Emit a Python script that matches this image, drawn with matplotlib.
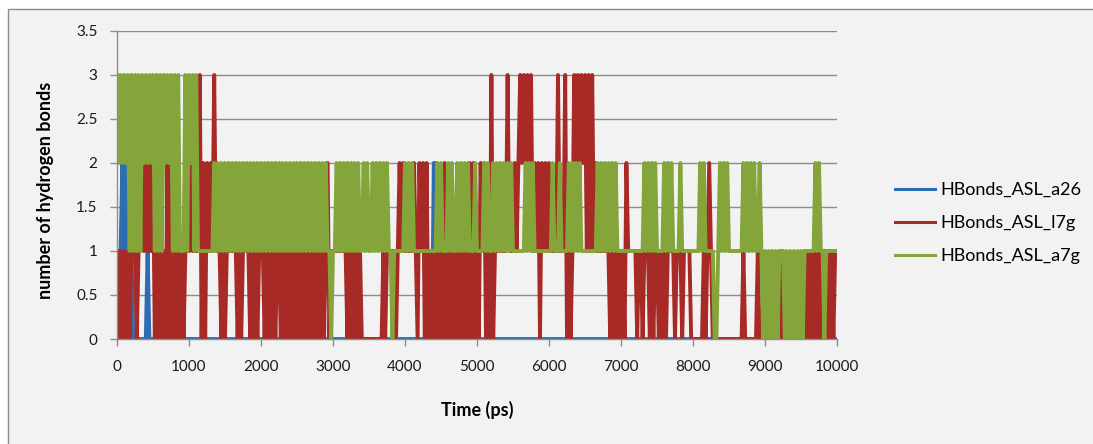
import numpy as np
import matplotlib
matplotlib.use("Agg")
import matplotlib.pyplot as plt
from matplotlib.patches import Rectangle
from matplotlib.ticker import FuncFormatter, MultipleLocator

plt.rcParams['font.family'] = ['Lato', 'DejaVu Sans']

# number of hydrogen bonds, one digit per 25 ps,
# one row per 1000 ps (spaces only for readability)
step_ps = 25

hb_a26 = [
    "00121 21210 00000 00100 00000 00000 00000 00000",
    "00000 00000 00000 00000 00000 00000 00000 00000",
    "00000 00000 00000 00000 00000 00000 00000 00000",
    "00000 00000 00000 00000 00000 00000 00000 00000",
    "00000 00000 00000 02200 00000 00000 00000 00000",
    "00000 00000 00000 00000 00000 00000 00000 00000",
    "00000 00000 00000 00000 00000 00000 00000 00000",
    "00000 00000 00000 00000 00000 00000 00000 00000",
    "00000 00000 00000 00000 00000 00000 00000 00000",
    "00000 00000 00000 00000 00000 00000 00000 00000",
    "0",
]

hb_l7g = [
    "10101 01011 10112 12121 20101 01020 20101 01011",
    "12111 13020 21213 11101 01111 11010 11110 10101",
    "11010 10101 10101 01010 10101 01010 10101 01201",
    "11111 11101 01010 10000 00000 00010 11111 01212",
    "11111 21021 20201 01010 10201 01010 10101 02020",
    "10212 01030 11111 11311 12123 23232 31212 02121",
    "21111 31113 01013 23232 31313 12111 11110 10101",
    "01021 11110 11011 10101 10101 01111 01110 11110",
    "00000 01012 10000 00000 00000 00010 00000 01000",
    "00000 00001 00000 00000 00101 01010 10110 10101",
    "1",
]

hb_a7g = [
    "32323 23131 31313 23232 31313 13232 31313 11131",
    "32313 11111 11112 12121 21212 12121 21212 12121",
    "21212 12121 21212 12121 21212 12121 21212 12110",
    "11212 12121 21212 11212 11212 12121 21101 11111",
    "21212 11111 11111 11121 21112 12112 12121 21112",
    "11112 12112 12121 21212 11111 11212 12111 11111",
    "11211 12111 12121 21211 11111 11212 12121 21211",
    "11111 11111 11121 21212 11112 12121 11121 11111",
    "11112 12111 11001 21212 11111 11121 21212 11210",
    "10101 01011 10101 01010 10111 11121 21101 11111",
    "1",
]

series_names = ["HBonds_ASL_a26", "HBonds_ASL_l7g", "HBonds_ASL_a7g"]
series_colors = ["#2f6db3", "#a82a27", "#83a539"]


def to_values(rows):
    s = "".join(rows).replace(" ", "")
    return np.array([int(c) for c in s])


W, H = 1093, 444
fig = plt.figure(figsize=(W / 100, H / 100), dpi=100, facecolor="white")
fig.add_artist(Rectangle((8 / W, -0.1), 1.2, 1.1 - 9 / H, transform=fig.transFigure,
                         facecolor="#f2f2f2", edgecolor="#8c8c8c", lw=1.0, zorder=-1))

ax = fig.add_axes([117 / W, (H - 339) / H, 720 / W, 308 / H])
ax.set_facecolor("none")

for rows, name, col in zip([hb_a26, hb_l7g, hb_a7g], series_names, series_colors):
    vals = to_values(rows)
    t = np.arange(len(vals)) * step_ps
    ax.plot(t, vals, color=col, lw=2.8, label=name, solid_joinstyle="round")

ax.set_xlim(0, 10000)
ax.set_ylim(0, 3.5)
ax.xaxis.set_major_locator(MultipleLocator(1000))
ax.yaxis.set_major_locator(MultipleLocator(0.5))
ax.yaxis.set_major_formatter(FuncFormatter(lambda v, p: f"{v:g}"))

ax.yaxis.grid(True, color="#8c8c8c", lw=1.0)
ax.set_axisbelow(True)
for s in ["top", "right"]:
    ax.spines[s].set_visible(False)
for s in ["left", "bottom"]:
    ax.spines[s].set_color("#8c8c8c")
    ax.spines[s].set_linewidth(1.0)

ax.tick_params(axis="both", direction="out", length=5, width=1, color="#8c8c8c",
               labelsize=11, labelcolor="#1a1a1a")
ax.tick_params(axis="y", pad=9)
ax.tick_params(axis="x", pad=10)

ax.set_ylabel("number of hydrogen bonds", fontsize=13, fontweight="bold")
ax.yaxis.set_label_coords((54 - 117) / 720, 0.484)
ax.set_xlabel("Time (ps)", fontsize=13, fontweight="bold")
ax.xaxis.set_label_coords(0.5, (339 - 401) / 308)

leg = ax.legend(loc="upper left", bbox_to_anchor=(895 / W, 1 - 182 / H),
                bbox_transform=fig.transFigure, frameon=False, fontsize=13,
                handlelength=2.2, handletextpad=0.3, labelspacing=0.95,
                borderpad=0, borderaxespad=0)
for h in leg.get_lines():
    h.set_linewidth(2.2)

fig.savefig("out.png", dpi=100)
